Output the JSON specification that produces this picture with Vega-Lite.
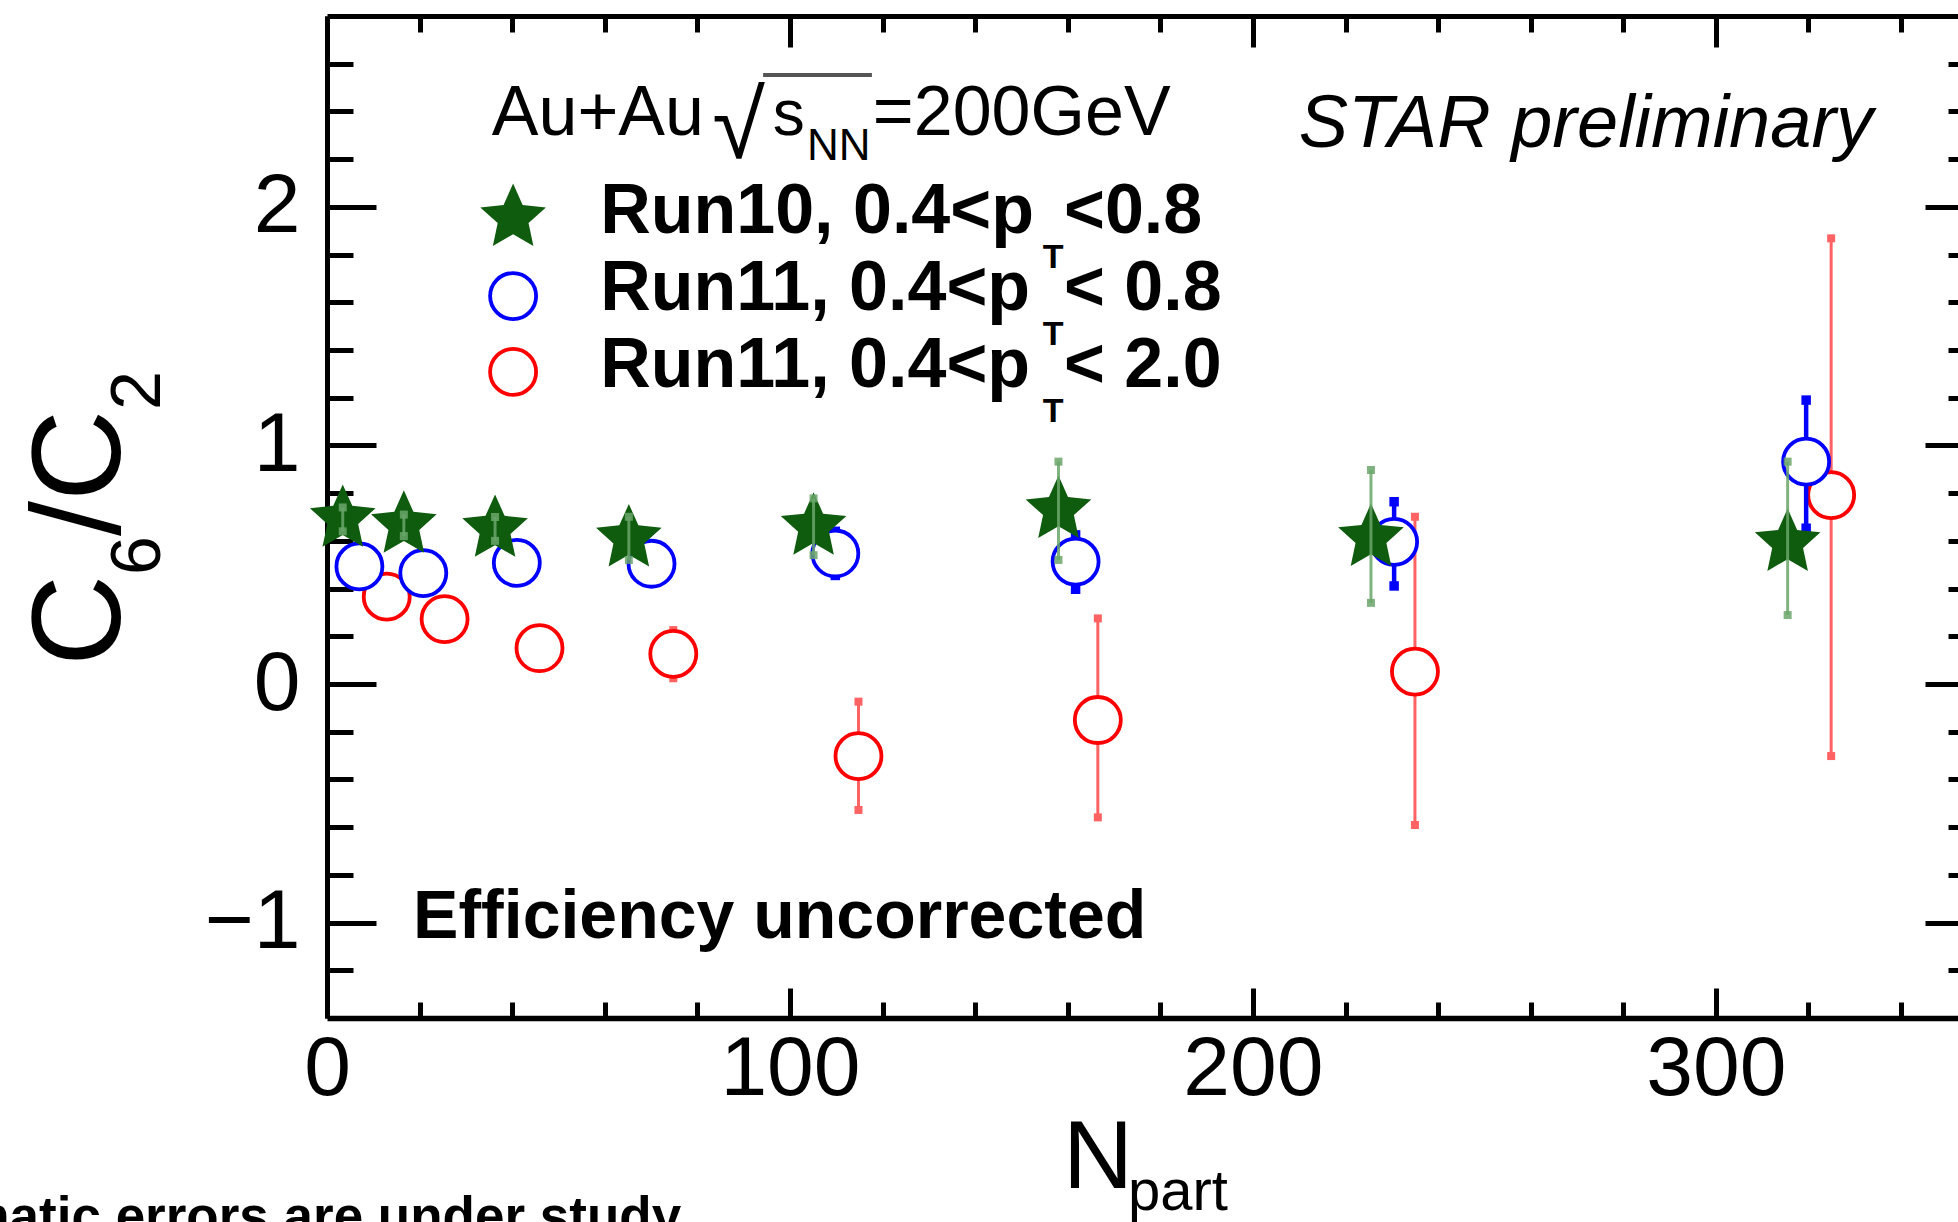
{
  "$schema": "https://vega.github.io/schema/vega-lite/v6.json",
  "width": 1631,
  "height": 1002,
  "autosize": {"type": "none"},
  "padding": {"left": 327, "top": 16, "right": 0, "bottom": 204},
  "background": "white",
  "config": {
    "view": {"stroke": null},
    "axis": {"grid": false, "domainColor": "black", "domainWidth": 5, "tickColor": "black", "tickWidth": 5, "labelFont": "Liberation Sans", "labelFontSize": 84, "labelColor": "black", "titleFont": "Liberation Sans", "titleColor": "black", "titleFontWeight": "normal"},
    "text": {"font": "Liberation Sans", "color": "black"}
  },
  "datasets": {
    "pts": [
      {"s": "g", "N": 3.4, "y": 0.692, "lo": 0.64, "hi": 0.74},
      {"s": "g", "N": 16.6, "y": 0.667, "lo": 0.62, "hi": 0.71},
      {"s": "g", "N": 36.3, "y": 0.650, "lo": 0.60, "hi": 0.70},
      {"s": "g", "N": 65.2, "y": 0.610, "lo": 0.52, "hi": 0.701},
      {"s": "g", "N": 105.1, "y": 0.659, "lo": 0.54, "hi": 0.778},
      {"s": "g", "N": 158.0, "y": 0.729, "lo": 0.520, "hi": 0.932},
      {"s": "g", "N": 225.5, "y": 0.612, "lo": 0.340, "hi": 0.897},
      {"s": "g", "N": 315.5, "y": 0.591, "lo": 0.289, "hi": 0.932},
      {"s": "b", "N": 7.0, "y": 0.493, "lo": 0.46, "hi": 0.53},
      {"s": "b", "N": 20.8, "y": 0.465, "lo": 0.43, "hi": 0.50},
      {"s": "b", "N": 41.0, "y": 0.508, "lo": 0.47, "hi": 0.55},
      {"s": "b", "N": 70.1, "y": 0.504, "lo": 0.46, "hi": 0.55},
      {"s": "b", "N": 109.8, "y": 0.547, "lo": 0.455, "hi": 0.64},
      {"s": "b", "N": 161.7, "y": 0.513, "lo": 0.397, "hi": 0.625},
      {"s": "b", "N": 230.5, "y": 0.596, "lo": 0.411, "hi": 0.764},
      {"s": "b", "N": 319.5, "y": 0.932, "lo": 0.653, "hi": 1.190},
      {"s": "r", "N": 12.9, "y": 0.366, "lo": 0.33, "hi": 0.40},
      {"s": "r", "N": 25.4, "y": 0.272, "lo": 0.23, "hi": 0.31},
      {"s": "r", "N": 45.9, "y": 0.150, "lo": 0.10, "hi": 0.20},
      {"s": "r", "N": 74.8, "y": 0.126, "lo": 0.024, "hi": 0.226},
      {"s": "r", "N": 114.8, "y": -0.302, "lo": -0.528, "hi": -0.074},
      {"s": "r", "N": 166.5, "y": -0.151, "lo": -0.559, "hi": 0.275},
      {"s": "r", "N": 235.0, "y": 0.052, "lo": -0.591, "hi": 0.701},
      {"s": "r", "N": 324.9, "y": 0.792, "lo": -0.302, "hi": 1.868}
    ],
    "leg": [
      {"s": "g", "N": 40.2, "y": 1.953},
      {"s": "b", "N": 40.2, "y": 1.626},
      {"s": "r", "N": 40.2, "y": 1.308}
    ],
    "txt": [
      {"k": "star", "N": 209.9, "y": 2.251, "t": "STAR preliminary"},
      {"k": "eff", "N": 18.6, "y": -1.065, "t": "Efficiency uncorrected"},
      {"k": "hdr", "N": 35.6, "y": 2.301, "t": "Au+Au"},
      {"k": "rad", "N": 83.2, "y": 2.205, "t": "√"},
      {"k": "s", "N": 96.3, "y": 2.301, "t": "s"},
      {"k": "sub", "N": 103.7, "y": 2.196, "t": "NN"},
      {"k": "hdr", "N": 117.9, "y": 2.301, "t": "=200GeV"},
      {"k": "row", "N": 59.0, "y": 1.890, "t": "Run10, 0.4<p"},
      {"k": "row", "N": 59.0, "y": 1.568, "t": "Run11, 0.4<p"},
      {"k": "row", "N": 59.0, "y": 1.245, "t": "Run11, 0.4<p"},
      {"k": "T", "N": 154.6, "y": 1.744, "t": "T"},
      {"k": "T", "N": 154.6, "y": 1.421, "t": "T"},
      {"k": "T", "N": 154.6, "y": 1.098, "t": "T"},
      {"k": "row", "N": 159.2, "y": 1.890, "t": "<0.8"},
      {"k": "row", "N": 159.2, "y": 1.568, "t": "< 0.8"},
      {"k": "row", "N": 159.2, "y": 1.245, "t": "< 2.0"},
      {"k": "Nt", "N": 159.0, "y": -2.113, "t": "N"},
      {"k": "part", "N": 173.0, "y": -2.205, "t": "part"},
      {"k": "sys", "N": 76.5, "y": -2.307, "t": "Systematic errors are under study"},
      {"k": "yt", "N": -44.71, "y": 0.0755, "t": "C"},
      {"k": "ys", "N": -36.07, "y": 0.4569, "t": "6"},
      {"k": "yt", "N": -44.71, "y": 0.6204, "t": "/"},
      {"k": "yt", "N": -44.71, "y": 0.7671, "t": "C"},
      {"k": "ys", "N": -36.07, "y": 1.1485, "t": "2"}
    ],
    "bar": [
      {"N": 94.2, "N2": 117.7, "y": 2.553}
    ]
  },
  "resolve": {"axis": {"x": "independent", "y": "independent"}},
  "layer": [
    {
      "data": {"name": "pts"},
      "transform": [{"filter": "datum.s === 'r'"}],
      "mark": {"type": "rule", "color": "#ff6262", "strokeWidth": 3},
      "encoding": {
        "x": {"field": "N", "type": "quantitative", "scale": {"domain": [0, 352.3], "nice": false, "zero": false},
          "axis": {"orient": "bottom", "title": null, "values": [0, 20, 40, 60, 80, 100, 120, 140, 160, 180, 200, 220, 240, 260, 280, 300, 320, 340],
            "labelExpr": "datum.value % 100 === 0 ? datum.label : ''", "labelOverlap": false, "labelFlush": false, "labelPadding": 40, "domainWidth": 5.5,
            "tickSize": {"condition": {"test": "datum.value % 100 === 0", "value": -30}, "value": -16}}},
        "y": {"field": "lo", "type": "quantitative", "scale": {"domain": [-1.4, 2.8], "nice": false, "zero": false},
          "axis": {"orient": "left", "title": null, "values": [-1.2, -1, -0.8, -0.6, -0.4, -0.2, 0, 0.2, 0.4, 0.6, 0.8, 1, 1.2, 1.4, 1.6, 1.8, 2, 2.2, 2.4, 2.6],
            "labelExpr": "abs(datum.value - round(datum.value)) < 0.01 ? format(round(datum.value), 'd') : ''", "labelOverlap": false, "labelFlush": false, "labelPadding": 76,
            "tickSize": {"condition": {"test": "abs(datum.value - round(datum.value)) < 0.01", "value": -49}, "value": -26}}},
        "y2": {"field": "hi"}
      }
    },
    {
      "data": {"name": "pts"},
      "transform": [{"filter": "datum.s === 'r'"}],
      "mark": {"type": "point", "shape": "square", "filled": true, "color": "#ff6262", "size": 64, "opacity": 1},
      "encoding": {"x": {"field": "N", "type": "quantitative", "axis": null}, "y": {"field": "lo", "type": "quantitative", "axis": null}}
    },
    {
      "data": {"name": "pts"},
      "transform": [{"filter": "datum.s === 'r'"}],
      "mark": {"type": "point", "shape": "square", "filled": true, "color": "#ff6262", "size": 64, "opacity": 1},
      "encoding": {"x": {"field": "N", "type": "quantitative", "axis": null}, "y": {"field": "hi", "type": "quantitative", "axis": null}}
    },
    {
      "data": {"name": "pts"},
      "transform": [{"filter": "datum.s === 'r'"}],
      "mark": {"type": "point", "shape": "circle", "filled": false, "fill": "white", "fillOpacity": 1, "stroke": "#ff0000", "size": 2116, "strokeWidth": 3.8, "opacity": 1},
      "encoding": {"x": {"field": "N", "type": "quantitative", "axis": null}, "y": {"field": "y", "type": "quantitative", "axis": null}}
    },
    {
      "data": {"name": "pts"},
      "transform": [{"filter": "datum.s === 'b'"}],
      "mark": {"type": "rule", "color": "#0000ff", "strokeWidth": 4.5},
      "encoding": {
        "x": {"field": "N", "type": "quantitative", "scale": {"domain": [0, 352.3], "nice": false, "zero": false},
          "axis": {"orient": "top", "title": null, "labels": false, "values": [0, 20, 40, 60, 80, 100, 120, 140, 160, 180, 200, 220, 240, 260, 280, 300, 320, 340],
            "tickSize": {"condition": {"test": "datum.value % 100 === 0", "value": -31}, "value": -16}}},
        "y": {"field": "lo", "type": "quantitative", "scale": {"domain": [-1.4, 2.8], "nice": false, "zero": false},
          "axis": {"orient": "right", "title": null, "labels": false, "domain": false, "values": [-1.2, -1, -0.8, -0.6, -0.4, -0.2, 0, 0.2, 0.4, 0.6, 0.8, 1, 1.2, 1.4, 1.6, 1.8, 2, 2.2, 2.4, 2.6],
            "tickSize": {"condition": {"test": "abs(datum.value - round(datum.value)) < 0.01", "value": -33}, "value": -10}}},
        "y2": {"field": "hi"}
      }
    },
    {
      "data": {"name": "pts"},
      "transform": [{"filter": "datum.s === 'b'"}],
      "mark": {"type": "point", "shape": "square", "filled": true, "color": "#0000ff", "size": 90, "opacity": 1},
      "encoding": {"x": {"field": "N", "type": "quantitative", "axis": null}, "y": {"field": "lo", "type": "quantitative", "axis": null}}
    },
    {
      "data": {"name": "pts"},
      "transform": [{"filter": "datum.s === 'b'"}],
      "mark": {"type": "point", "shape": "square", "filled": true, "color": "#0000ff", "size": 90, "opacity": 1},
      "encoding": {"x": {"field": "N", "type": "quantitative", "axis": null}, "y": {"field": "hi", "type": "quantitative", "axis": null}}
    },
    {
      "data": {"name": "pts"},
      "transform": [{"filter": "datum.s === 'b'"}],
      "mark": {"type": "point", "shape": "circle", "filled": false, "fill": "white", "fillOpacity": 1, "stroke": "#0000ff", "size": 2116, "strokeWidth": 3.8, "opacity": 1},
      "encoding": {"x": {"field": "N", "type": "quantitative", "axis": null}, "y": {"field": "y", "type": "quantitative", "axis": null}}
    },
    {
      "data": {"name": "pts"},
      "transform": [{"filter": "datum.s === 'g'"}],
      "mark": {"type": "point", "shape": "M0,-1L0.2763,-0.3802L0.9511,-0.309L0.447,0.1452L0.5878,0.809L0,0.47L-0.5878,0.809L-0.447,0.1452L-0.9511,-0.309L-0.2763,-0.3802Z", "filled": true, "color": "#0f5c0f", "size": 4761, "opacity": 1, "strokeWidth": 0},
      "encoding": {"x": {"field": "N", "type": "quantitative", "axis": null}, "y": {"field": "y", "type": "quantitative", "axis": null}}
    },
    {
      "data": {"name": "pts"},
      "transform": [{"filter": "datum.s === 'g'"}],
      "mark": {"type": "rule", "color": "#6aa66a", "strokeWidth": 3, "opacity": 0.85},
      "encoding": {
        "x": {"field": "N", "type": "quantitative", "axis": null},
        "y": {"field": "lo", "type": "quantitative", "axis": null},
        "y2": {"field": "hi"}
      }
    },
    {
      "data": {"name": "pts"},
      "transform": [{"filter": "datum.s === 'g'"}],
      "mark": {"type": "point", "shape": "square", "filled": true, "color": "#6aa66a", "size": 64, "opacity": 0.85},
      "encoding": {"x": {"field": "N", "type": "quantitative", "axis": null}, "y": {"field": "lo", "type": "quantitative", "axis": null}}
    },
    {
      "data": {"name": "pts"},
      "transform": [{"filter": "datum.s === 'g'"}],
      "mark": {"type": "point", "shape": "square", "filled": true, "color": "#6aa66a", "size": 64, "opacity": 0.85},
      "encoding": {"x": {"field": "N", "type": "quantitative", "axis": null}, "y": {"field": "hi", "type": "quantitative", "axis": null}}
    },
    {
      "data": {"name": "leg"},
      "transform": [{"filter": "datum.s === 'g'"}],
      "mark": {"type": "point", "shape": "M0,-1L0.2763,-0.3802L0.9511,-0.309L0.447,0.1452L0.5878,0.809L0,0.47L-0.5878,0.809L-0.447,0.1452L-0.9511,-0.309L-0.2763,-0.3802Z", "filled": true, "color": "#0f5c0f", "size": 4761, "opacity": 1, "strokeWidth": 0},
      "encoding": {"x": {"field": "N", "type": "quantitative", "axis": null}, "y": {"field": "y", "type": "quantitative", "axis": null}}
    },
    {
      "data": {"name": "leg"},
      "transform": [{"filter": "datum.s === 'b'"}],
      "mark": {"type": "point", "shape": "circle", "filled": false, "color": "#0000ff", "size": 2116, "strokeWidth": 3.8, "opacity": 1},
      "encoding": {"x": {"field": "N", "type": "quantitative", "axis": null}, "y": {"field": "y", "type": "quantitative", "axis": null}}
    },
    {
      "data": {"name": "leg"},
      "transform": [{"filter": "datum.s === 'r'"}],
      "mark": {"type": "point", "shape": "circle", "filled": false, "color": "#ff0000", "size": 2116, "strokeWidth": 3.8, "opacity": 1},
      "encoding": {"x": {"field": "N", "type": "quantitative", "axis": null}, "y": {"field": "y", "type": "quantitative", "axis": null}}
    },
    {
      "data": {"name": "txt"},
      "transform": [{"filter": "datum.k === 'star'"}],
      "mark": {"type": "text", "align": "left", "baseline": "alphabetic", "fontSize": 74, "fontStyle": "italic"},
      "encoding": {"x": {"field": "N", "type": "quantitative", "axis": null}, "y": {"field": "y", "type": "quantitative", "axis": null}, "text": {"field": "t"}}
    },
    {
      "data": {"name": "txt"},
      "transform": [{"filter": "datum.k === 'eff'"}],
      "mark": {"type": "text", "align": "left", "baseline": "alphabetic", "fontSize": 68, "fontWeight": "bold"},
      "encoding": {"x": {"field": "N", "type": "quantitative", "axis": null}, "y": {"field": "y", "type": "quantitative", "axis": null}, "text": {"field": "t"}}
    },
    {
      "data": {"name": "txt"},
      "transform": [{"filter": "datum.k === 'hdr'"}],
      "mark": {"type": "text", "align": "left", "baseline": "alphabetic", "fontSize": 70},
      "encoding": {"x": {"field": "N", "type": "quantitative", "axis": null}, "y": {"field": "y", "type": "quantitative", "axis": null}, "text": {"field": "t"}}
    },
    {
      "data": {"name": "txt"},
      "transform": [{"filter": "datum.k === 'rad'"}],
      "mark": {"type": "text", "align": "left", "baseline": "alphabetic", "fontSize": 96},
      "encoding": {"x": {"field": "N", "type": "quantitative", "axis": null}, "y": {"field": "y", "type": "quantitative", "axis": null}, "text": {"field": "t"}}
    },
    {
      "data": {"name": "txt"},
      "transform": [{"filter": "datum.k === 's'"}],
      "mark": {"type": "text", "align": "left", "baseline": "alphabetic", "fontSize": 64},
      "encoding": {"x": {"field": "N", "type": "quantitative", "axis": null}, "y": {"field": "y", "type": "quantitative", "axis": null}, "text": {"field": "t"}}
    },
    {
      "data": {"name": "txt"},
      "transform": [{"filter": "datum.k === 'sub'"}],
      "mark": {"type": "text", "align": "left", "baseline": "alphabetic", "fontSize": 44},
      "encoding": {"x": {"field": "N", "type": "quantitative", "axis": null}, "y": {"field": "y", "type": "quantitative", "axis": null}, "text": {"field": "t"}}
    },
    {
      "data": {"name": "txt"},
      "transform": [{"filter": "datum.k === 'row'"}],
      "mark": {"type": "text", "align": "left", "baseline": "alphabetic", "fontSize": 70, "fontWeight": "bold"},
      "encoding": {"x": {"field": "N", "type": "quantitative", "axis": null}, "y": {"field": "y", "type": "quantitative", "axis": null}, "text": {"field": "t"}}
    },
    {
      "data": {"name": "txt"},
      "transform": [{"filter": "datum.k === 'T'"}],
      "mark": {"type": "text", "align": "left", "baseline": "alphabetic", "fontSize": 34, "fontWeight": "bold"},
      "encoding": {"x": {"field": "N", "type": "quantitative", "axis": null}, "y": {"field": "y", "type": "quantitative", "axis": null}, "text": {"field": "t"}}
    },
    {
      "data": {"name": "txt"},
      "transform": [{"filter": "datum.k === 'Nt'"}],
      "mark": {"type": "text", "align": "left", "baseline": "alphabetic", "fontSize": 97},
      "encoding": {"x": {"field": "N", "type": "quantitative", "axis": null}, "y": {"field": "y", "type": "quantitative", "axis": null}, "text": {"field": "t"}}
    },
    {
      "data": {"name": "txt"},
      "transform": [{"filter": "datum.k === 'part'"}],
      "mark": {"type": "text", "align": "left", "baseline": "alphabetic", "fontSize": 58},
      "encoding": {"x": {"field": "N", "type": "quantitative", "axis": null}, "y": {"field": "y", "type": "quantitative", "axis": null}, "text": {"field": "t"}}
    },
    {
      "data": {"name": "txt"},
      "transform": [{"filter": "datum.k === 'sys'"}],
      "mark": {"type": "text", "align": "right", "baseline": "alphabetic", "fontSize": 53, "fontWeight": "bold"},
      "encoding": {"x": {"field": "N", "type": "quantitative", "axis": null}, "y": {"field": "y", "type": "quantitative", "axis": null}, "text": {"field": "t"}}
    },
    {
      "data": {"name": "txt"},
      "transform": [{"filter": "datum.k === 'yt'"}],
      "mark": {"type": "text", "align": "left", "baseline": "alphabetic", "fontSize": 126, "angle": 270},
      "encoding": {"x": {"field": "N", "type": "quantitative", "axis": null}, "y": {"field": "y", "type": "quantitative", "axis": null}, "text": {"field": "t"}}
    },
    {
      "data": {"name": "txt"},
      "transform": [{"filter": "datum.k === 'ys'"}],
      "mark": {"type": "text", "align": "left", "baseline": "alphabetic", "fontSize": 70, "angle": 270},
      "encoding": {"x": {"field": "N", "type": "quantitative", "axis": null}, "y": {"field": "y", "type": "quantitative", "axis": null}, "text": {"field": "t"}}
    },
    {
      "data": {"name": "bar"},
      "mark": {"type": "rule", "color": "#555555", "strokeWidth": 4},
      "encoding": {"x": {"field": "N", "type": "quantitative", "axis": null}, "x2": {"field": "N2"}, "y": {"field": "y", "type": "quantitative", "axis": null}}
    }
  ]
}
